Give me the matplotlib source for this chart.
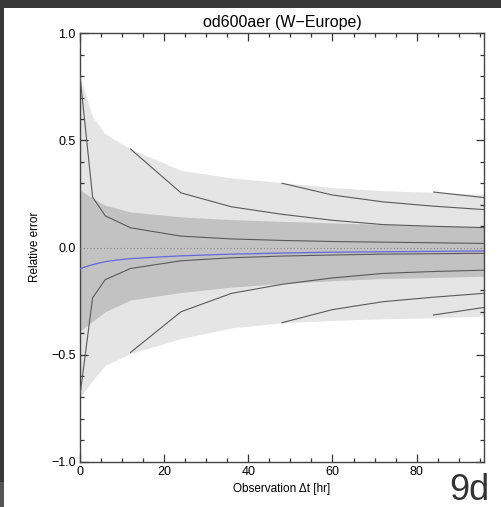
import matplotlib
matplotlib.use('Agg')
import matplotlib.pyplot as plt
from matplotlib.patches import Rectangle
from matplotlib.ticker import MultipleLocator, FixedLocator

plt.rcParams['font.family'] = ['Liberation Sans', 'DejaVu Sans']

# ---- data ----
hours = [0, 3, 6, 12, 24, 36, 48, 60, 72, 84, 96]
env_hi = [0.80, 0.61, 0.53, 0.46, 0.36, 0.325, 0.303, 0.28, 0.265, 0.258, 0.248]
env_lo = [-0.70, -0.62, -0.55, -0.495, -0.425, -0.375, -0.352, -0.34, -0.333, -0.328, -0.32]
iqr_hi = [0.27, 0.23, 0.197, 0.166, 0.143, 0.13, 0.122, 0.115, 0.108, 0.100, 0.095]
iqr_lo = [-0.39, -0.345, -0.30, -0.245, -0.21, -0.185, -0.168, -0.155, -0.145, -0.14, -0.134]

mean_hours = [0, 1, 2, 3, 4, 6, 9, 12, 18, 24, 36, 48, 60, 72, 84, 96]
mean_err = [-0.10, -0.092, -0.086, -0.080, -0.075, -0.066, -0.058, -0.052, -0.045,
            -0.039, -0.031, -0.026, -0.022, -0.020, -0.018, -0.016]

# traces starting at different lead times (upper / lower)
tr0_h = [0, 3, 6, 12, 24, 36, 48, 60, 72, 84, 96]
tr0_hi = [0.80, 0.235, 0.148, 0.092, 0.053, 0.04, 0.033, 0.028, 0.025, 0.022, 0.019]
tr0_lo = [-0.69, -0.235, -0.15, -0.098, -0.062, -0.048, -0.04, -0.035, -0.031, -0.029, -0.027]
tr12_h = [12, 24, 36, 48, 60, 72, 84, 96]
tr12_hi = [0.46, 0.255, 0.19, 0.155, 0.127, 0.107, 0.099, 0.093]
tr12_lo = [-0.49, -0.30, -0.214, -0.172, -0.142, -0.121, -0.112, -0.106]
tr48_h = [48, 60, 72, 84, 96]
tr48_hi = [0.30, 0.245, 0.213, 0.193, 0.177]
tr48_lo = [-0.351, -0.29, -0.253, -0.232, -0.214]
tr84_h = [84, 96]
tr84_hi = [0.259, 0.233]
tr84_lo = [-0.315, -0.28]

x_ticks = [0, 20, 40, 60, 80]
y_ticks = [-1.0, -0.5, 0.0, 0.5, 1.0]
y_ticklabels = ['\u22121.0', '\u22120.5', '0.0', '0.5', '1.0']

# ---- figure ----
W, H = 502, 507
fig = plt.figure(figsize=(W / 100, H / 100), dpi=100)
fig.patch.set_facecolor('white')

# screenshot frame
fig.patches.append(Rectangle((0, (H - 8) / H), 1, 8 / H, transform=fig.transFigure,
                             facecolor='#383838', edgecolor='none', zorder=0))
fig.patches.append(Rectangle((0, (H - 482) / H), 4 / W, (482 - 8) / H, transform=fig.transFigure,
                             facecolor='#383838', edgecolor='none', zorder=0))
fig.patches.append(Rectangle((0, 0), 4 / W, (H - 482) / H, transform=fig.transFigure,
                             facecolor='#555555', edgecolor='none', zorder=0))

l, r, t, b = 80, 484, 33.3, 461.7
ax = fig.add_axes([l / W, (H - b) / H, (r - l) / W, (b - t) / H])

ax.fill_between(hours, env_lo, env_hi, color='#e5e5e5', linewidth=0, zorder=1)
ax.fill_between(hours, iqr_lo, iqr_hi, color='#c2c2c2', linewidth=0, zorder=2)
ax.axhline(0, color='#888888', linestyle=(0, (1, 2)), linewidth=0.8, zorder=3)

lc = '#5a5a5a'
for h, hi, lo in [(tr0_h, tr0_hi, tr0_lo), (tr12_h, tr12_hi, tr12_lo),
                  (tr48_h, tr48_hi, tr48_lo), (tr84_h, tr84_hi, tr84_lo)]:
    ax.plot(h, hi, color=lc, linewidth=0.8, zorder=4)
    ax.plot(h, lo, color=lc, linewidth=0.8, zorder=4)

ax.plot(mean_hours, mean_err, color='#6666dd', linewidth=0.9, zorder=5)

ax.set_xlim(0, 96)
ax.set_ylim(-1.0, 1.0)
ax.xaxis.set_major_locator(FixedLocator(x_ticks))
ax.xaxis.set_minor_locator(MultipleLocator(5))
ax.yaxis.set_major_locator(FixedLocator(y_ticks))
ax.yaxis.set_minor_locator(MultipleLocator(0.1))
ax.set_yticklabels(y_ticklabels)
ax.tick_params(which='both', direction='in', top=True, right=True, color='#333333', width=0.9)
ax.tick_params(which='major', length=6, labelsize=9, pad=3)
ax.tick_params(which='minor', length=3)
for s in ax.spines.values():
    s.set_color('#444444')
    s.set_linewidth(1.0)

fig.text(35 / W, 1 - 247 / H, 'Relative error', rotation=90, ha='center', va='center', fontsize=8.5)
fig.text(282 / W, 1 - 489 / H, 'Observation \u0394t [hr]', ha='center', va='center', fontsize=8.5)
fig.text(282 / W, 1 - 26.5 / H, 'od600aer (W\u2212Europe)', ha='center', va='baseline', fontsize=11.5)
fig.text(449 / W, 1 - 500 / H, '9d', ha='left', va='baseline', fontsize=26, color='#333333')

fig.savefig('out.png', dpi=100, facecolor=fig.get_facecolor())
